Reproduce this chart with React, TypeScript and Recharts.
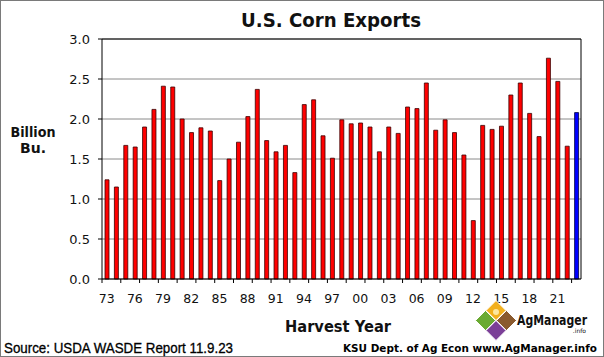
import { Bar, BarChart, CartesianGrid, Cell, ReferenceLine, XAxis, YAxis } from 'recharts';

// Crop years 1973..2023; the last one (current projection) is drawn in blue.
const YEARS = [
  1973, 1974, 1975, 1976, 1977, 1978, 1979, 1980, 1981, 1982,
  1983, 1984, 1985, 1986, 1987, 1988, 1989, 1990, 1991, 1992,
  1993, 1994, 1995, 1996, 1997, 1998, 1999, 2000, 2001, 2002,
  2003, 2004, 2005, 2006, 2007, 2008, 2009, 2010, 2011, 2012,
  2013, 2014, 2015, 2016, 2017, 2018, 2019, 2020, 2021, 2022,
  2023,
];

// Exports, billion bushels.
const EXPORTS = [
  1.24, 1.15, 1.67, 1.65, 1.90, 2.12, 2.41, 2.40, 2.00, 1.83,
  1.89, 1.85, 1.23, 1.50, 1.71, 2.03, 2.37, 1.73, 1.59, 1.67,
  1.33, 2.18, 2.24, 1.79, 1.51, 1.99, 1.94, 1.95, 1.90, 1.59,
  1.90, 1.82, 2.15, 2.13, 2.45, 1.86, 1.99, 1.83, 1.55, 0.73,
  1.92, 1.87, 1.91, 2.30, 2.45, 2.07, 1.78, 2.76, 2.47, 1.66,
  2.08,
];

const Y_TICKS = [0, 0.5, 1.0, 1.5, 2.0, 2.5, 3.0];

const data = YEARS.map((y, i) => ({ year: y, value: EXPORTS[i] }));

const PLOT_LEFT = 102;
const PLOT_RIGHT = 581;
const PLOT_BOTTOM = 279;
const BAND = (PLOT_RIGHT - PLOT_LEFT) / YEARS.length;

// Excel-style axis: tick marks between every other category, labels every third year.
function YearTick(props: any) {
  const { x, payload } = props;
  const idx = YEARS.indexOf(payload.value);
  return (
    <g>
      {idx % 2 === 0 && (
        <line x1={x - BAND / 2} x2={x - BAND / 2} y1={PLOT_BOTTOM} y2={PLOT_BOTTOM + 4} stroke="#000" />
      )}
      {idx % 3 === 0 && (
        <text x={x} y={303} textAnchor="middle" fontSize={12.5} fill="#111" fontFamily="'DejaVu Sans', sans-serif">
          {String(payload.value).slice(2)}
        </text>
      )}
    </g>
  );
}

function Logo() {
  const d = (cx: number, cy: number, r: number) => `M${cx},${cy - r} L${cx + r},${cy} L${cx},${cy + r} L${cx - r},${cy} Z`;
  return (
    <g>
      <path d={d(496, 310.5, 10)} fill="#f2b01e" stroke="#fff" strokeWidth={1} />
      <circle cx={496} cy={312} r={3} fill="#fde7a0" />
      <path d={d(485.5, 320.5, 10)} fill="#6aaa32" stroke="#fff" strokeWidth={1} />
      <path d={d(506.5, 320.5, 10)} fill="#8a5a2e" stroke="#fff" strokeWidth={1} />
      <path d={d(496, 330.5, 10)} fill="#7b3f97" stroke="#fff" strokeWidth={1} />
      <text x={517} y={325} fontSize={13.5} fontWeight="bold" fill="#111" textLength={70} lengthAdjust="spacingAndGlyphs" fontFamily="'DejaVu Sans', sans-serif">
        AgManager
      </text>
      <text x={586} y={333} fontSize={6} textAnchor="end" fill="#111" fontFamily="'DejaVu Sans', sans-serif">
        .info
      </text>
    </g>
  );
}

export default function App() {
  return (
    <div style={{ position: 'absolute', left: 0, top: 0, width: 604, height: 357, background: '#fff' }}>
      <BarChart width={604} height={357} data={data} margin={{ top: 39, right: 22, bottom: 48, left: 0 }} barCategoryGap={0}>
        <CartesianGrid vertical={false} stroke="#8a8a8a" />
        <XAxis dataKey="year" interval={0} tickLine={false} axisLine={{ stroke: '#000' }} height={30} tick={<YearTick />} />
        <YAxis
          domain={[0, 3]}
          ticks={Y_TICKS}
          width={102}
          axisLine={{ stroke: '#000' }}
          tickLine={{ stroke: '#000' }}
          tickSize={4}
          tickMargin={8}
          tickFormatter={(v) => Number(v).toFixed(1)}
          tick={{ fontSize: 13, fill: '#111', fontFamily: "'DejaVu Sans', sans-serif" }}
        />
        <YAxis yAxisId="r" orientation="right" domain={[0, 3]} width={1} tick={false} tickLine={false} axisLine={{ stroke: '#000' }} />
        <ReferenceLine y={3} stroke="#000" />
        <Bar dataKey="value" barSize={4} fill="#ff0000" stroke="#3a0000" strokeWidth={0.8} isAnimationActive={false}>
          {data.map((d, i) => (
            <Cell key={d.year} fill={i === data.length - 1 ? '#0000ff' : '#ff0000'} stroke={i === data.length - 1 ? '#00003a' : '#3a0000'} />
          ))}
        </Bar>
      </BarChart>
      <svg width={604} height={357} style={{ position: 'absolute', left: 0, top: 0, pointerEvents: 'none' }}>
        <rect x={0.5} y={0.5} width={603} height={356} fill="none" stroke="#7a7a7a" />
        <text x={331} y={27} textAnchor="middle" fontSize={20} fontWeight="bold" fill="#111" textLength={180} lengthAdjust="spacingAndGlyphs" fontFamily="'DejaVu Sans', sans-serif">
          U.S. Corn Exports
        </text>
        <text x={33} y={137} textAnchor="middle" fontSize={14} fontWeight="bold" fill="#111" textLength={45} lengthAdjust="spacingAndGlyphs" fontFamily="'DejaVu Sans', sans-serif">
          Billion
        </text>
        <text x={33} y={153} textAnchor="middle" fontSize={14} fontWeight="bold" fill="#111" fontFamily="'DejaVu Sans', sans-serif">
          Bu.
        </text>
        <text x={338} y={332} textAnchor="middle" fontSize={15} fontWeight="bold" fill="#111" textLength={106} lengthAdjust="spacingAndGlyphs" fontFamily="'DejaVu Sans', sans-serif">
          Harvest Year
        </text>
        <text x={4} y={353} fontSize={14} fill="#000" stroke="#000" strokeWidth={0.3} textLength={229} lengthAdjust="spacingAndGlyphs" fontFamily="'Liberation Sans Narrow', 'Liberation Sans', sans-serif">
          Source:  USDA WASDE Report 11.9.23
        </text>
        <text x={343} y={352} fontSize={11} fontWeight="bold" fill="#000" textLength={254} lengthAdjust="spacingAndGlyphs" fontFamily="'DejaVu Sans', sans-serif">
          KSU Dept. of Ag Econ  www.AgManager.info
        </text>
        <Logo />
      </svg>
    </div>
  );
}
